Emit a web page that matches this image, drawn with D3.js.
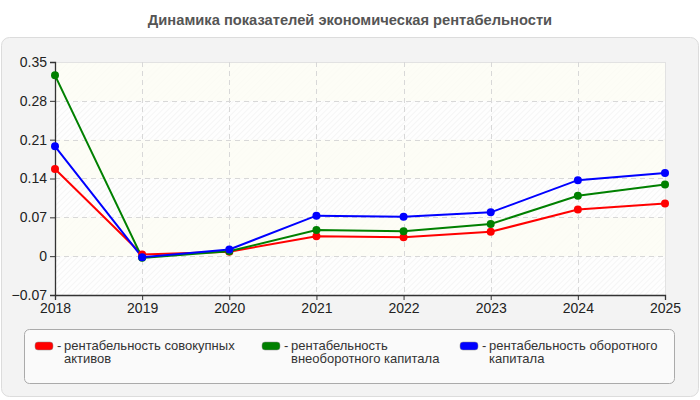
<!DOCTYPE html>
<html><head><meta charset="utf-8">
<script src="https://cdn.jsdelivr.net/npm/d3@7"></script>
<style>body{margin:0;background:#fff}svg{display:block}</style>
</head><body>
<svg id="c" width="700" height="400"></svg>
<script>
const years = ["2018","2019","2020","2021","2022","2023","2024","2025"];
const seriesNames = ["рентабельность совокупных активов","рентабельность внеоборотного капитала","рентабельность оборотного капитала"];
const legendLines = [["рентабельность совокупных","активов"],["рентабельность","внеоборотного капитала"],["рентабельность оборотного","капитала"]];
const colors = ["#ff0000","#008000","#0000ff"];
const assets = [0.157,0.003,0.008,0.036,0.034,0.044,0.084,0.095];
const nonCurrent = [0.326,-0.003,0.009,0.047,0.045,0.058,0.109,0.129];
const current = [0.198,-0.002,0.012,0.073,0.071,0.079,0.137,0.150];
const yTicks = [-0.07,0,0.07,0.14,0.21,0.28,0.35];
const title = "Динамика показателей экономическая рентабельности";
const allSeries = [assets, nonCurrent, current];

const svg = d3.select("#c");
const font = "'Liberation Sans', Arial, sans-serif";
const L = 55, R = 665, T = 62, B = 295;

const defs = svg.append("defs");
const pat = defs.append("pattern").attr("id","hatch").attr("width",4).attr("height",4)
  .attr("patternUnits","userSpaceOnUse").attr("patternTransform","rotate(45)");
pat.append("rect").attr("width",4).attr("height",4).attr("fill","#fefefe");
pat.append("line").attr("x1",0).attr("y1",0).attr("x2",0).attr("y2",4).attr("stroke","#ececec").attr("stroke-width",1);

svg.append("text").attr("x",350).attr("y",25).attr("text-anchor","middle")
  .attr("font-family",font).attr("font-weight","bold").attr("font-size",14.7).attr("fill","#555").text(title);

svg.append("rect").attr("x",1.5).attr("y",37.5).attr("width",697).attr("height",359).attr("rx",8)
  .attr("fill","#f3f3f3").attr("stroke","#dcdcdc");

const x = d3.scalePoint().domain(years).range([L,R]);
const y = d3.scaleLinear().domain([-0.07,0.35]).range([B,T]);

svg.append("rect").attr("x",L).attr("y",T).attr("width",R-L).attr("height",B-T).attr("fill","url(#hatch)");
// alternating bands
for (let i = 0; i < yTicks.length-1; i++) {
  if ((yTicks.length-2-i) % 2 === 0) {
    svg.append("rect").attr("x",L).attr("y",y(yTicks[i+1])).attr("width",R-L)
      .attr("height",y(yTicks[i])-y(yTicks[i+1])).attr("fill","#fcfcf4").attr("opacity",0.8);
  }
}
svg.append("line").attr("x1",L).attr("x2",R).attr("y1",T+0.5).attr("y2",T+0.5).attr("stroke","#e2e2e2");
svg.append("line").attr("x1",R+0.5).attr("x2",R+0.5).attr("y1",T).attr("y2",B).attr("stroke","#e2e2e2");

// grid
svg.append("g").selectAll("line").data(yTicks.slice(1,-1)).join("line")
  .attr("x1",L).attr("x2",R).attr("y1",d=>Math.round(y(d))+0.5).attr("y2",d=>Math.round(y(d))+0.5)
  .attr("stroke","#d8d8d8").attr("stroke-dasharray","5,4");
svg.append("g").selectAll("line").data(years.slice(1,-1)).join("line")
  .attr("x1",d=>Math.round(x(d))+0.5).attr("x2",d=>Math.round(x(d))+0.5).attr("y1",T).attr("y2",B)
  .attr("stroke","#d8d8d8").attr("stroke-dasharray","5,4");

// axes
const ya = svg.append("g").attr("transform",`translate(${L},0)`)
  .call(d3.axisLeft(y).tickValues(yTicks).tickFormat(d=>d===0?"0":d3.format(".2f")(d)).tickSizeOuter(0).tickSize(5));
const xa = svg.append("g").attr("transform",`translate(0,${B})`)
  .call(d3.axisBottom(x).tickSizeOuter(0).tickSize(5));
[ya,xa].forEach(a=>{
  a.select(".domain").attr("stroke","#333").attr("stroke-width",1.3);
  a.selectAll(".tick line").attr("stroke","#333");
  a.selectAll("text").attr("font-family",font).attr("font-size",14).attr("fill","#222");
});
ya.selectAll("text").attr("x",-8);
xa.selectAll("text").attr("y",8);

// lines
const line = d3.line().x((d,i)=>x(years[i])).y(d=>y(d));
allSeries.forEach((s,k)=>{
  svg.append("path").datum(s).attr("d",line).attr("fill","none").attr("stroke",colors[k]).attr("stroke-width",2);
});
allSeries.forEach((s,k)=>{
  svg.append("g").selectAll("circle").data(s).join("circle")
    .attr("cx",(d,i)=>x(years[i])).attr("cy",d=>y(d)).attr("r",4).attr("fill",colors[k]);
});

// legend
svg.append("rect").attr("x",24.5).attr("y",329.5).attr("width",650).attr("height",54).attr("rx",5)
  .attr("fill","#fafafa").attr("stroke","#aaa");
const lx = [35,262,460];
legendLines.forEach((lines,k)=>{
  const g = svg.append("g").attr("transform",`translate(${lx[k]},0)`);
  g.append("rect").attr("x",0).attr("y",342).attr("width",18).attr("height",8).attr("rx",3)
    .attr("fill",colors[k]).attr("stroke","#888").attr("stroke-width",0.5);
  g.append("text").attr("x",22).attr("y",350).attr("font-family",font).attr("font-size",13).attr("fill","#333").text("-");
  const t = g.append("text").attr("font-family",font).attr("font-size",13).attr("fill","#333");
  lines.forEach((ln,j)=>t.append("tspan").attr("x",29).attr("y",350+j*13).text(ln));
});
</script>
</body></html>
